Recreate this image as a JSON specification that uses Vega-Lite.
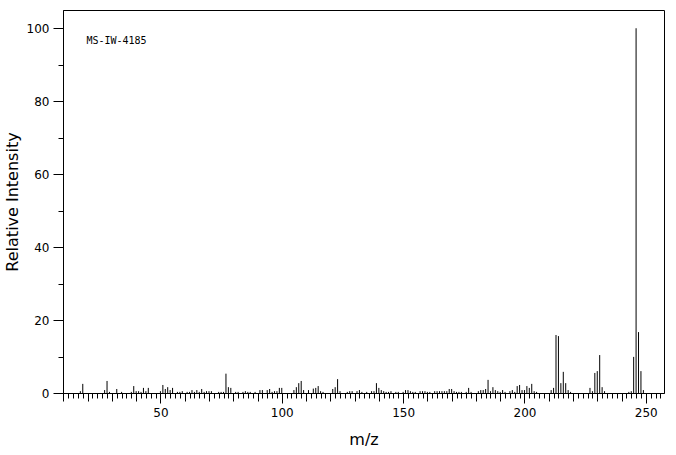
{
  "$schema": "https://vega.github.io/schema/vega-lite/v6.json",
  "width": 601,
  "height": 383,
  "autosize": "none",
  "padding": {"left": 63, "top": 10, "right": 12, "bottom": 62},
  "background": "white",
  "config": {
    "view": {"stroke": "black", "strokeWidth": 1},
    "axis": {
      "domainColor": "black",
      "tickColor": "black",
      "labelColor": "black",
      "titleColor": "black",
      "labelFont": "DejaVu Sans",
      "titleFont": "DejaVu Sans",
      "labelFontSize": 12,
      "titleFontSize": 16,
      "titleFontWeight": "normal",
      "grid": false,
      "tickWidth": 1,
      "domainWidth": 1
    }
  },
  "datasets": {
    "peaks": [
      {"mz": 17, "intensity": 0.5}, {"mz": 18, "intensity": 2.5}, {"mz": 27, "intensity": 0.8}, {"mz": 28, "intensity": 3.3},
      {"mz": 29, "intensity": 0.3}, {"mz": 32, "intensity": 1.1}, {"mz": 34, "intensity": 0.3}, {"mz": 38, "intensity": 0.3},
      {"mz": 39, "intensity": 1.9}, {"mz": 40, "intensity": 0.5}, {"mz": 41, "intensity": 0.5}, {"mz": 42, "intensity": 0.3},
      {"mz": 43, "intensity": 1.4}, {"mz": 44, "intensity": 0.5}, {"mz": 45, "intensity": 1.4}, {"mz": 50, "intensity": 0.5},
      {"mz": 51, "intensity": 2.2}, {"mz": 52, "intensity": 1.1}, {"mz": 53, "intensity": 1.6}, {"mz": 54, "intensity": 0.8},
      {"mz": 55, "intensity": 1.4}, {"mz": 57, "intensity": 0.3}, {"mz": 58, "intensity": 0.3}, {"mz": 59, "intensity": 0.5},
      {"mz": 61, "intensity": 0.3}, {"mz": 62, "intensity": 0.3}, {"mz": 63, "intensity": 0.8}, {"mz": 64, "intensity": 0.3},
      {"mz": 65, "intensity": 0.8}, {"mz": 66, "intensity": 0.3}, {"mz": 67, "intensity": 1.1}, {"mz": 68, "intensity": 0.3},
      {"mz": 69, "intensity": 0.5}, {"mz": 70, "intensity": 0.5}, {"mz": 71, "intensity": 0.5}, {"mz": 74, "intensity": 0.3},
      {"mz": 75, "intensity": 0.3}, {"mz": 76, "intensity": 0.3}, {"mz": 77, "intensity": 5.3}, {"mz": 78, "intensity": 1.6},
      {"mz": 79, "intensity": 1.4}, {"mz": 81, "intensity": 0.3}, {"mz": 82, "intensity": 0.3}, {"mz": 84, "intensity": 0.3},
      {"mz": 85, "intensity": 0.5}, {"mz": 86, "intensity": 0.3}, {"mz": 87, "intensity": 0.3}, {"mz": 89, "intensity": 0.3},
      {"mz": 91, "intensity": 0.8}, {"mz": 92, "intensity": 0.8}, {"mz": 94, "intensity": 0.8}, {"mz": 95, "intensity": 1.1},
      {"mz": 96, "intensity": 0.3}, {"mz": 97, "intensity": 0.5}, {"mz": 98, "intensity": 0.5}, {"mz": 99, "intensity": 1.4},
      {"mz": 100, "intensity": 1.4}, {"mz": 105, "intensity": 0.8}, {"mz": 106, "intensity": 1.6}, {"mz": 107, "intensity": 2.7},
      {"mz": 108, "intensity": 3.3}, {"mz": 109, "intensity": 0.8}, {"mz": 111, "intensity": 0.8}, {"mz": 113, "intensity": 1.2},
      {"mz": 114, "intensity": 1.4}, {"mz": 115, "intensity": 1.9}, {"mz": 116, "intensity": 0.5}, {"mz": 117, "intensity": 0.3},
      {"mz": 121, "intensity": 1.1}, {"mz": 122, "intensity": 1.6}, {"mz": 123, "intensity": 3.8}, {"mz": 124, "intensity": 0.5},
      {"mz": 127, "intensity": 0.3}, {"mz": 128, "intensity": 0.5}, {"mz": 129, "intensity": 0.5}, {"mz": 131, "intensity": 0.5},
      {"mz": 132, "intensity": 0.8}, {"mz": 133, "intensity": 0.3}, {"mz": 135, "intensity": 0.3}, {"mz": 137, "intensity": 0.5},
      {"mz": 138, "intensity": 0.5}, {"mz": 139, "intensity": 2.7}, {"mz": 140, "intensity": 1.4}, {"mz": 141, "intensity": 0.8},
      {"mz": 142, "intensity": 0.5}, {"mz": 143, "intensity": 0.3}, {"mz": 144, "intensity": 0.3}, {"mz": 145, "intensity": 0.5},
      {"mz": 147, "intensity": 0.3}, {"mz": 148, "intensity": 0.3}, {"mz": 150, "intensity": 0.3}, {"mz": 151, "intensity": 0.8},
      {"mz": 152, "intensity": 0.8}, {"mz": 153, "intensity": 0.5}, {"mz": 154, "intensity": 0.3}, {"mz": 155, "intensity": 0.3},
      {"mz": 157, "intensity": 0.5}, {"mz": 158, "intensity": 0.5}, {"mz": 159, "intensity": 0.5}, {"mz": 160, "intensity": 0.3},
      {"mz": 161, "intensity": 0.3}, {"mz": 163, "intensity": 0.5}, {"mz": 164, "intensity": 0.5}, {"mz": 165, "intensity": 0.5},
      {"mz": 166, "intensity": 0.5}, {"mz": 167, "intensity": 0.5}, {"mz": 168, "intensity": 0.5}, {"mz": 169, "intensity": 1.1},
      {"mz": 170, "intensity": 1.1}, {"mz": 171, "intensity": 0.5}, {"mz": 172, "intensity": 0.3}, {"mz": 173, "intensity": 0.3},
      {"mz": 174, "intensity": 0.3}, {"mz": 176, "intensity": 0.3}, {"mz": 177, "intensity": 1.4}, {"mz": 178, "intensity": 0.3},
      {"mz": 181, "intensity": 0.5}, {"mz": 182, "intensity": 0.8}, {"mz": 183, "intensity": 0.8}, {"mz": 184, "intensity": 1.1},
      {"mz": 185, "intensity": 3.6}, {"mz": 186, "intensity": 0.5}, {"mz": 187, "intensity": 1.6}, {"mz": 188, "intensity": 0.8},
      {"mz": 189, "intensity": 0.5}, {"mz": 190, "intensity": 0.3}, {"mz": 191, "intensity": 0.8}, {"mz": 192, "intensity": 0.3},
      {"mz": 194, "intensity": 0.5}, {"mz": 195, "intensity": 0.8}, {"mz": 196, "intensity": 0.3}, {"mz": 197, "intensity": 1.9},
      {"mz": 198, "intensity": 2.2}, {"mz": 199, "intensity": 0.8}, {"mz": 200, "intensity": 0.8}, {"mz": 201, "intensity": 1.9},
      {"mz": 202, "intensity": 1.4}, {"mz": 203, "intensity": 2.5}, {"mz": 204, "intensity": 0.5}, {"mz": 205, "intensity": 0.3},
      {"mz": 211, "intensity": 0.8}, {"mz": 212, "intensity": 1.4}, {"mz": 213, "intensity": 15.9}, {"mz": 214, "intensity": 15.6},
      {"mz": 215, "intensity": 2.7}, {"mz": 216, "intensity": 5.8}, {"mz": 217, "intensity": 2.7}, {"mz": 218, "intensity": 0.8},
      {"mz": 219, "intensity": 0.3}, {"mz": 227, "intensity": 1.4}, {"mz": 228, "intensity": 0.5}, {"mz": 229, "intensity": 5.5},
      {"mz": 230, "intensity": 6.0}, {"mz": 231, "intensity": 10.4}, {"mz": 232, "intensity": 1.6}, {"mz": 233, "intensity": 0.5},
      {"mz": 243, "intensity": 0.3}, {"mz": 244, "intensity": 0.5}, {"mz": 245, "intensity": 9.9}, {"mz": 246, "intensity": 100},
      {"mz": 247, "intensity": 16.7}, {"mz": 248, "intensity": 6.0}, {"mz": 249, "intensity": 0.8}
    ]
  },
  "layer": [
    {
      "data": {"name": "peaks"},
      "mark": {"type": "rule", "color": "black", "strokeWidth": 1},
      "encoding": {
        "x": {
          "field": "mz", "type": "quantitative",
          "scale": {"domain": [9.85, 257.5], "nice": false, "zero": false},
          "axis": {"orient": "bottom", "title": "m/z", "values": [50, 100, 150, 200, 250], "tickSize": 10, "labelPadding": 4, "titlePadding": 13, "labelFlush": false}
        },
        "y": {
          "field": "intensity", "type": "quantitative",
          "scale": {"domain": [0, 105], "nice": false, "zero": true},
          "axis": {"orient": "left", "title": "Relative Intensity", "values": [0, 20, 40, 60, 80, 100], "tickSize": 10, "labelPadding": 4, "titlePadding": 6, "labelFlush": false}
        },
        "y2": {"datum": 0}
      }
    },
    {
      "data": {"name": "peaks"},
      "mark": {"type": "rule", "opacity": 0},
      "encoding": {
        "x": {
          "field": "mz", "type": "quantitative",
          "scale": {"domain": [9.85, 257.5], "nice": false, "zero": false},
          "axis": {"orient": "bottom", "title": null, "labels": false, "domain": false, "tickSize": 8,
            "values": [10, 20, 30, 40, 60, 70, 80, 90, 110, 120, 130, 140, 160, 170, 180, 190, 210, 220, 230, 240]}
        },
        "y": {
          "field": "intensity", "type": "quantitative",
          "scale": {"domain": [0, 105], "nice": false, "zero": true},
          "axis": {"orient": "left", "title": null, "labels": false, "domain": false, "tickSize": 5, "values": [10, 30, 50, 70, 90]}
        }
      }
    },
    {
      "data": {"name": "peaks"},
      "mark": {"type": "rule", "opacity": 0},
      "encoding": {
        "x": {
          "field": "mz", "type": "quantitative",
          "scale": {"domain": [9.85, 257.5], "nice": false, "zero": false},
          "axis": {"orient": "bottom", "title": null, "labels": false, "domain": false, "tickSize": 5,
            "values": [12, 14, 16, 18, 22, 24, 26, 28, 32, 34, 36, 38, 42, 44, 46, 48, 52, 54, 56, 58, 62, 64, 66, 68, 72, 74, 76, 78, 82, 84, 86, 88, 92, 94, 96, 98, 102, 104, 106, 108, 112, 114, 116, 118, 122, 124, 126, 128, 132, 134, 136, 138, 142, 144, 146, 148, 152, 154, 156, 158, 162, 164, 166, 168, 172, 174, 176, 178, 182, 184, 186, 188, 192, 194, 196, 198, 202, 204, 206, 208, 212, 214, 216, 218, 222, 224, 226, 228, 232, 234, 236, 238, 242, 244, 246, 248, 252, 254, 256]}
        },
        "y": {
          "field": "intensity", "type": "quantitative",
          "scale": {"domain": [0, 105], "nice": false, "zero": true},
          "axis": null
        }
      }
    },
    {
      "data": {"values": [{"label": "MS-IW-4185"}]},
      "mark": {"type": "text", "align": "left", "baseline": "middle", "font": "DejaVu Sans Mono", "fontSize": 10, "color": "black"},
      "encoding": {
        "x": {"datum": 19.5, "type": "quantitative", "scale": {"domain": [9.85, 257.5], "nice": false, "zero": false}, "axis": null},
        "y": {"datum": 96.4, "type": "quantitative", "scale": {"domain": [0, 105], "nice": false, "zero": true}, "axis": null},
        "text": {"field": "label", "type": "nominal"}
      }
    }
  ],
  "resolve": {"axis": {"x": "independent", "y": "independent"}}
}
